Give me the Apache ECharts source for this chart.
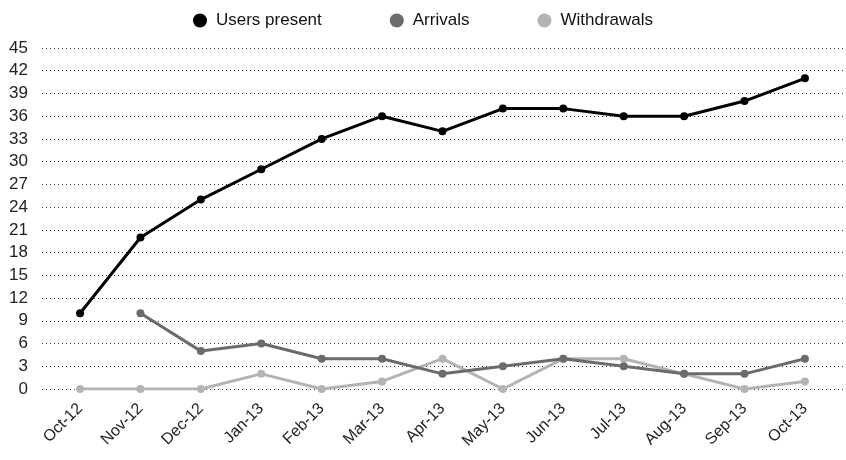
<!DOCTYPE html>
<html><head><meta charset="utf-8">
<script src="https://cdn.jsdelivr.net/npm/echarts@6/dist/echarts.min.js"></script>
<style>html,body{margin:0;padding:0;background:#fff}#c{width:846px;height:460px}</style>
</head><body><div id="c"></div>
<script>
var categories = ['Oct-12','Nov-12','Dec-12','Jan-13','Feb-13','Mar-13','Apr-13','May-13','Jun-13','Jul-13','Aug-13','Sep-13','Oct-13'];
var usersPresent = [10,20,25,29,33,36,34,37,37,36,36,38,41];
var arrivals = [null,10,5,6,4,4,2,3,4,3,2,2,4];
var withdrawals = [0,0,0,2,0,1,4,0,4,4,2,0,1];
var yTicks = [0,3,6,9,12,15,18,21,24,27,30,33,36,39,42,45];

function pts(arr){ return arr.map(function(v,i){ return [i, v === null ? '-' : v]; }); }
var idx = categories.map(function(_,i){return i;});
var font = 'Liberation Sans, Arial, Helvetica, sans-serif';

var chart = echarts.init(document.getElementById('c'));
chart.setOption({
  animation:false,
  textStyle:{fontFamily:font},
  legend:{
    top:7, left:'center', icon:'circle', itemWidth:14, itemHeight:14, itemGap:68,
    textStyle:{fontSize:17, color:'#111', fontFamily:font, padding:[0,0,0,4]},
    data:['Users present','Arrivals','Withdrawals']
  },
  grid:{left:42, right:0, top:48, bottom:71},
  xAxis:{
    type:'value', min:-0.63, max:12.68,
    axisLine:{show:false}, axisTick:{show:false}, splitLine:{show:false},
    axisLabel:{customValues:idx, rotate:45, margin:17, fontSize:16, color:'#222', fontFamily:font,
      formatter:function(v){ return categories[Math.round(v)]; }}
  },
  yAxis:{
    type:'value', min:yTicks[0], max:yTicks[yTicks.length-1], interval:3,
    axisLine:{show:false}, axisTick:{show:false},
    axisLabel:{fontSize:17, color:'#222', margin:14, fontFamily:font},
    splitLine:{lineStyle:{type:[1,3], color:'#333', width:1}}
  },
  series:[
    {name:'Withdrawals', type:'line', data:pts(withdrawals), color:'#b3b3b3', symbol:'circle', symbolSize:8, lineStyle:{width:3}, z:2},
    {name:'Arrivals', type:'line', data:pts(arrivals), color:'#6b6b6b', symbol:'circle', symbolSize:8, lineStyle:{width:3}, z:3},
    {name:'Users present', type:'line', data:pts(usersPresent), color:'#000', symbol:'circle', symbolSize:8, lineStyle:{width:3}, z:4}
  ]
});
</script></body></html>
